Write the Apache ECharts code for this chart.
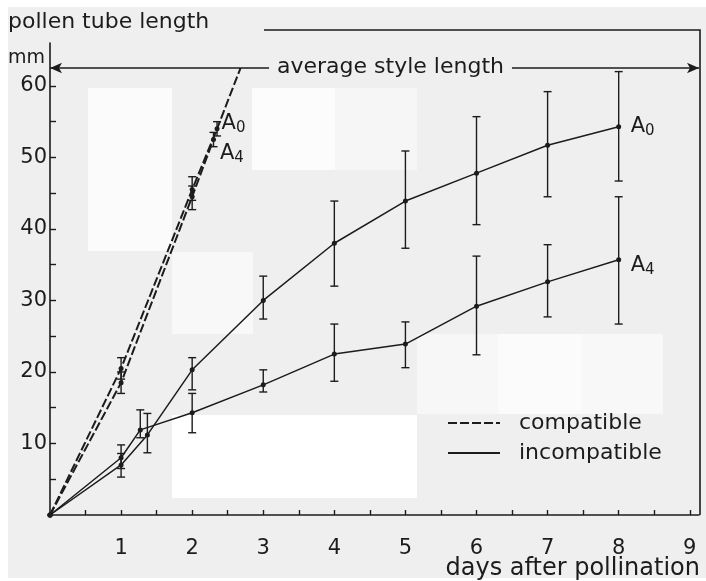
<!DOCTYPE html>
<html>
<head>
<meta charset="utf-8">
<script src="https://cdn.jsdelivr.net/npm/echarts@6/dist/echarts.min.js"></script>
<style>
  html, body { margin: 0; padding: 0; background: #fff; }
  #main {
    width: 706px; height: 581px;
    /* scanned page: grey paper with a few lighter patches */
    background:
      linear-gradient(#fbfbfb,#fbfbfb) 88px 88px / 84px 163px no-repeat,
      linear-gradient(#fcfcfc,#fcfcfc) 252px 88px / 83px 82px no-repeat,
      linear-gradient(#f6f6f6,#f6f6f6) 335px 88px / 82px 82px no-repeat,
      linear-gradient(#f8f8f8,#f8f8f8) 172px 252px / 81px 82px no-repeat,
      linear-gradient(#ffffff,#ffffff) 172px 415px / 245px 83px no-repeat,
      linear-gradient(#f7f7f7,#f7f7f7) 417px 334px / 81px 80px no-repeat,
      linear-gradient(#fbfbfb,#fbfbfb) 498px 334px / 84px 80px no-repeat,
      linear-gradient(#f8f8f8,#f8f8f8) 582px 334px / 81px 80px no-repeat,
      linear-gradient(#efefef,#efefef) 8px 7px / 698px 571px no-repeat,
      #fff;
  }
</style>
</head>
<body>
<div id="main"></div>
<script>
  // incompatible pollinations (solid lines)
  var incA0Days = [0, 1, 1.37, 2, 3, 4, 5, 6, 7, 8];
  var incA0Len  = [0, 7.0, 11.2, 20.3, 30.0, 38.0, 43.9, 47.8, 51.7, 54.3];
  var incA0Lo   = [null, 5.3, 8.7, 17.5, 27.4, 32.0, 37.3, 40.6, 44.5, 46.7];
  var incA0Hi   = [null, 8.6, 14.2, 22.0, 33.4, 43.9, 50.9, 55.7, 59.2, 62.0];

  var incA4Days = [0, 1, 1.27, 2, 3, 4, 5, 6, 7, 8];
  var incA4Len  = [0, 8.0, 11.9, 14.3, 18.2, 22.5, 23.9, 29.2, 32.6, 35.7];
  var incA4Lo   = [null, 6.5, 10.8, 11.5, 17.2, 18.7, 20.6, 22.4, 27.7, 26.7];
  var incA4Hi   = [null, 9.8, 14.7, 17.0, 20.3, 26.7, 27.0, 36.2, 37.8, 44.5];

  // compatible pollinations (dashed lines)
  var comA0Days = [0, 1, 2, 2.35, 2.68];
  var comA0Len  = [0, 20.5, 45.5, 54.0, 62.5];
  var comA0Lo   = [null, 19.0, 44.0, 53.0, null];
  var comA0Hi   = [null, 22.0, 47.3, 55.0, null];

  var comA4Days = [0, 1, 2, 2.3];
  var comA4Len  = [0, 18.5, 44.5, 52.5];
  var comA4Lo   = [null, 17.0, 42.7, 51.5];
  var comA4Hi   = [null, 20.0, 46.0, 53.5];

  var styleLength = 62.5;
  var xTickLabels = [1, 2, 3, 4, 5, 6, 7, 8, 9];
  var yTickLabels = [10, 20, 30, 40, 50, 60];

  var ink = '#1c1c1c';
  var font = 'DejaVu Sans';

  function pairs(xs, ys) {
    return xs.map(function (x, i) { return [x, ys[i]]; });
  }
  function bars(xs, lo, hi) {
    var out = [];
    xs.forEach(function (x, i) {
      if (lo[i] != null) out.push([x, lo[i], hi[i]]);
    });
    return out;
  }
  var subRich = {
    a: { fontSize: 21, fontFamily: font, color: ink },
    s: { fontSize: 15, fontFamily: font, color: ink, padding: [9, 0, 0, 0] }
  };

  function errorSeries(data) {
    return {
      type: 'custom',
      silent: true,
      z: 3,
      encode: { x: 0, y: [1, 2] },
      data: data,
      renderItem: function (params, api) {
        var x = api.value(0);
        var lo = api.coord([x, api.value(1)]);
        var hi = api.coord([x, api.value(2)]);
        var w = 4;
        var st = { stroke: ink, lineWidth: 1.4 };
        return {
          type: 'group',
          children: [
            { type: 'line', shape: { x1: lo[0], y1: lo[1], x2: hi[0], y2: hi[1] }, style: st },
            { type: 'line', shape: { x1: lo[0] - w, y1: lo[1], x2: lo[0] + w, y2: lo[1] }, style: st },
            { type: 'line', shape: { x1: hi[0] - w, y1: hi[1], x2: hi[0] + w, y2: hi[1] }, style: st }
          ]
        };
      }
    };
  }

  function lineSeries(name, data, dashed, extra) {
    var s = {
      name: name,
      type: 'line',
      data: data,
      symbol: 'circle',
      symbolSize: 5,
      itemStyle: { color: ink },
      lineStyle: { color: ink, width: dashed ? 2 : 1.5, type: dashed ? [9, 3] : 'solid' },
      z: 4,
      animation: false
    };
    for (var k in extra) s[k] = extra[k];
    return s;
  }

  // compatible A0: last point is only where the line meets the style length
  var comA0Data = pairs(comA0Days, comA0Len).map(function (p, i) {
    if (i === comA0Days.length - 1) return { value: p, symbolSize: 0 };
    if (i === 3) return { value: p, label: { show: true, position: 'right', distance: 2, offset: [0, -5], formatter: '{a|A}{s|0}', rich: subRich } };
    return p;
  });
  var comA4Data = pairs(comA4Days, comA4Len).map(function (p, i) {
    if (i === 3) return { value: p, label: { show: true, position: 'right', distance: 4, offset: [0, 14], formatter: '{a|A}{s|4}', rich: subRich } };
    return p;
  });

  var myChart = echarts.init(document.getElementById('main'));
  myChart.setOption({
    backgroundColor: 'transparent',
    animation: false,
    textStyle: { fontFamily: font },
    grid: { left: 50, right: 7, top: 43, bottom: 66 },
    legend: {
      data: ['compatible', 'incompatible'],
      orient: 'vertical',
      left: 442,
      top: 407,
      itemWidth: 52,
      itemHeight: 12,
      itemGap: 8,
      textStyle: { fontSize: 22, fontFamily: font, color: ink, padding: [0, 0, 0, 14] }
    },
    xAxis: {
      type: 'value',
      min: 0,
      max: 9.13,
      interval: 1,
      splitLine: { show: false },
      axisLine: { lineStyle: { color: ink, width: 1.6 } },
      axisTick: {
        inside: true, length: 5, lineStyle: { color: ink, width: 1.4 },
        customValues: [0.5, 1, 1.5, 2, 2.5, 3, 3.5, 4, 4.5, 5, 5.5, 6, 6.5, 7, 7.5, 8, 8.5, 9]
      },
      axisLabel: { customValues: xTickLabels, fontSize: 21, color: ink, margin: 23, fontFamily: font }
    },
    yAxis: {
      type: 'value',
      min: 0,
      max: 66,
      interval: 10,
      splitLine: { show: false },
      axisLine: { lineStyle: { color: ink, width: 1.6 } },
      axisTick: {
        inside: true, length: 6, lineStyle: { color: ink, width: 1.4 },
        customValues: [5, 10, 15, 20, 25, 30, 35, 40, 45, 50, 55, 60]
      },
      axisLabel: { customValues: yTickLabels, fontSize: 21, color: ink, margin: 3, fontFamily: font }
    },
    graphic: [
      { type: 'text', left: 8, top: 11, style: { text: 'pollen tube length', fontSize: 22, fontFamily: font, fill: ink } },
      { type: 'text', left: 8, top: 49, style: { text: 'mm', fontSize: 19, fontFamily: font, fill: ink } },
      { type: 'text', right: 6, top: 557, style: { text: 'days after pollination', fontSize: 24, fontFamily: font, fill: ink } },
      { type: 'polyline', shape: { points: [[264, 30], [700, 30], [700, 515]] }, style: { stroke: ink, lineWidth: 1.6, fill: null } }
    ],
    series: [
      // legend entries
      { name: 'compatible', type: 'line', data: [], symbol: 'none', itemStyle: { color: 'transparent' }, lineStyle: { color: ink, width: 2, type: [9, 3] } },
      { name: 'incompatible', type: 'line', data: [], symbol: 'none', itemStyle: { color: 'transparent' }, lineStyle: { color: ink, width: 2 } },

      lineSeries('incA0', pairs(incA0Days, incA0Len), false, {
        endLabel: { show: true, distance: 12, offset: [0, 0], formatter: '{a|A}{s|0}', rich: subRich },
        markLine: {
          silent: true,
          symbol: ['arrow', 'arrow'],
          symbolSize: [8, 12],
          lineStyle: { color: ink, width: 1.6, type: 'solid' },
          label: {
            show: true, position: 'middle', formatter: 'average style length',
            fontSize: 22, fontFamily: font, color: ink,
            backgroundColor: '#efefef', padding: [0, 8], offset: [16, 15]
          },
          data: [[{ coord: [0, styleLength] }, { coord: [9.13, styleLength] }]]
        }
      }),
      lineSeries('incA4', pairs(incA4Days, incA4Len), false, {
        endLabel: { show: true, distance: 12, offset: [0, 6], formatter: '{a|A}{s|4}', rich: subRich }
      }),
      lineSeries('comA0', comA0Data, true, {}),
      lineSeries('comA4', comA4Data, true, {}),

      errorSeries(bars(incA0Days, incA0Lo, incA0Hi)),
      errorSeries(bars(incA4Days, incA4Lo, incA4Hi)),
      errorSeries(bars(comA0Days, comA0Lo, comA0Hi)),
      errorSeries(bars(comA4Days, comA4Lo, comA4Hi))
    ]
  });
</script>
</body>
</html>
